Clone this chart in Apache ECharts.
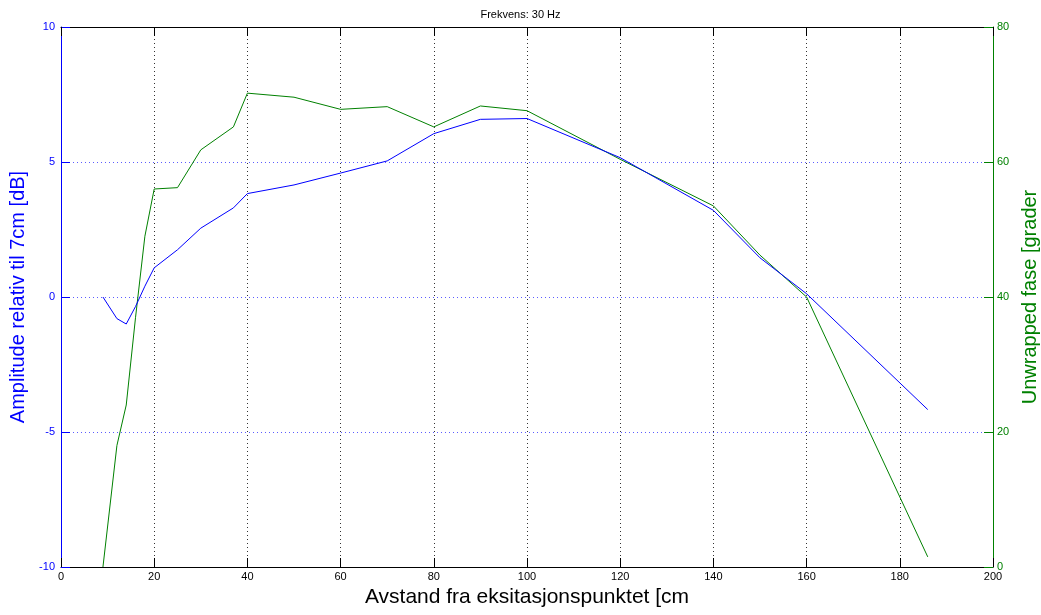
<!DOCTYPE html>
<html>
<head>
<meta charset="utf-8">
<title>Frekvens: 30 Hz</title>
<script src="https://cdn.jsdelivr.net/npm/echarts@6/dist/echarts.min.js"></script>
<style>
  html, body { margin: 0; padding: 0; background: #fff; overflow: hidden; }
  #chart { width: 1041px; height: 615px; }
</style>
</head>
<body>
<div id="chart"></div>
<script>
// Distance from the excitation point [cm]
const ampX = [9, 12, 14, 16, 18, 20, 25, 30, 37, 40, 50, 60, 70, 80, 90, 100, 120, 140, 150, 160, 186];
// Amplitude relative to 7 cm [dB]
const ampDb = [0, -0.8, -1.0, -0.35, 0.4, 1.08, 1.75, 2.55, 3.3, 3.83, 4.15, 4.59, 5.04, 6.05, 6.58, 6.61, 5.16, 3.21, 1.45, 0.12, -4.17];

const phaseX = [9, 12, 14, 16, 18, 20, 25, 30, 37, 40, 50, 60, 70, 80, 90, 100, 120, 140, 150, 160, 186];
// Unwrapped phase [degrees]
const phaseDeg = [0, 18, 24, 37, 49, 56, 56.2, 61.8, 65.2, 70.2, 69.6, 67.8, 68.2, 65.2, 68.3, 67.6, 60.4, 53.5, 46.2, 40.0, 1.5];

const xTicks = { min: 0, max: 200, step: 20 };
const ampTicks = { min: -10, max: 10, step: 5 };
const phaseTicks = { min: 0, max: 80, step: 20 };

const BLUE = '#0000ff';
const GREEN = '#008000';
const FONT = '"Liberation Sans", Arial, Helvetica, sans-serif';

const zip = (xs, ys) => xs.map((x, i) => [x, ys[i]]);

const chart = echarts.init(document.getElementById('chart'), null, { renderer: 'canvas', width: 1041, height: 615 });

chart.setOption({
  animation: false,
  backgroundColor: '#ffffff',
  textStyle: { fontFamily: FONT },
  title: {
    text: 'Frekvens: 30 Hz',
    left: 'center',
    top: 9,
    padding: 0,
    textStyle: { fontSize: 11, fontWeight: 'normal', color: '#000', fontFamily: FONT }
  },
  grid: { left: 61, right: 48, top: 27, bottom: 48, containLabel: false, outerBoundsMode: 'none' },
  xAxis: [
    {
      type: 'value',
      position: 'bottom',
      min: xTicks.min, max: xTicks.max, interval: xTicks.step,
      name: 'Avstand fra eksitasjonspunktet [cm',
      nameLocation: 'middle',
      nameGap: 14,
      nameTextStyle: { fontSize: 21, color: '#000', fontFamily: FONT },
      axisLine: { show: true, onZero: false, lineStyle: { color: '#000', width: 1 } },
      axisTick: { show: true, inside: true, length: 9, lineStyle: { color: '#000' } },
      axisLabel: { fontSize: 11, color: '#000', margin: 4, fontFamily: FONT },
      splitLine: { show: true, lineStyle: { color: '#333', type: [1, 3], width: 1 } }
    },
    {
      type: 'value',
      position: 'top',
      min: xTicks.min, max: xTicks.max, interval: xTicks.step,
      axisLine: { show: true, onZero: false, lineStyle: { color: '#000', width: 1 } },
      axisTick: { show: true, inside: true, length: 9, lineStyle: { color: '#000' } },
      axisLabel: { show: false },
      splitLine: { show: false }
    }
  ],
  yAxis: [
    {
      type: 'value',
      position: 'left',
      min: ampTicks.min, max: ampTicks.max, interval: ampTicks.step,
      name: 'Amplitude relativ til 7cm [dB]',
      nameLocation: 'middle',
      nameGap: 28,
      nameTextStyle: { fontSize: 20, color: BLUE, fontFamily: FONT },
      axisLine: { show: true, onZero: false, lineStyle: { color: BLUE, width: 1 } },
      axisTick: { show: true, inside: true, length: 9, lineStyle: { color: BLUE } },
      axisLabel: { fontSize: 11, color: BLUE, margin: 6, fontFamily: FONT },
      splitLine: { show: true, lineStyle: { color: '#5c5cff', type: [1, 3], width: 1 } }
    },
    {
      type: 'value',
      position: 'right',
      min: phaseTicks.min, max: phaseTicks.max, interval: phaseTicks.step,
      name: 'Unwrapped fase [grader',
      nameLocation: 'middle',
      nameGap: 26,
      nameTextStyle: { fontSize: 20, color: GREEN, fontFamily: FONT },
      axisLine: { show: true, onZero: false, lineStyle: { color: GREEN, width: 1 } },
      axisTick: { show: true, inside: true, length: 9, lineStyle: { color: GREEN } },
      axisLabel: { fontSize: 11, color: GREEN, margin: 4, fontFamily: FONT },
      splitLine: { show: false }
    }
  ],
  series: [
    {
      name: 'Amplitude',
      type: 'line',
      xAxisIndex: 0,
      yAxisIndex: 0,
      data: zip(ampX, ampDb),
      showSymbol: false,
      lineStyle: { color: BLUE, width: 1 },
      itemStyle: { color: BLUE },
      z: 3
    },
    {
      name: 'Fase',
      type: 'line',
      xAxisIndex: 0,
      yAxisIndex: 1,
      data: zip(phaseX, phaseDeg),
      showSymbol: false,
      lineStyle: { color: GREEN, width: 1 },
      itemStyle: { color: GREEN },
      z: 2
    }
  ]
});
</script>
</body>
</html>
